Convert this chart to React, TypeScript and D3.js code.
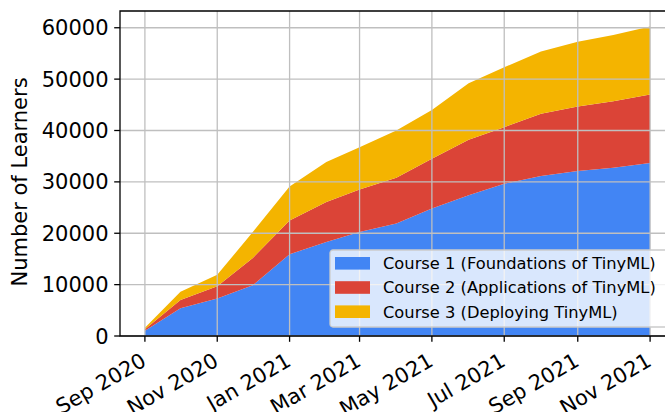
import React, { useEffect, useRef } from 'react';
import * as d3 from 'd3';

// monthly snapshots, first of each month
const months: string[] = [
  '2020-09-01', '2020-10-01', '2020-11-01', '2020-12-01', '2021-01-01',
  '2021-02-01', '2021-03-01', '2021-04-01', '2021-05-01', '2021-06-01',
  '2021-07-01', '2021-08-01', '2021-09-01', '2021-10-01', '2021-11-01',
];

const course1: number[] = [1000, 5380, 7320, 9900, 15900, 18300, 20250, 21900, 24800, 27400, 29650, 31130, 32100, 32750, 33650];
const course2: number[] = [300, 1620, 2380, 5300, 6600, 7800, 8250, 8900, 9700, 10800, 11000, 12110, 12560, 12950, 13350];
const course3: number[] = [300, 1600, 2200, 5050, 6600, 7750, 8260, 9200, 9500, 11000, 11650, 12160, 12620, 12880, 13250];

const seriesNames: string[] = [
  'Course 1 (Foundations of TinyML)',
  'Course 2 (Applications of TinyML)',
  'Course 3 (Deploying TinyML)',
];
const colors: string[] = ['#4285F4', '#DB4437', '#F4B400'];

const yTicks: number[] = [0, 10000, 20000, 30000, 40000, 50000, 60000];
const xTicks: string[] = ['2020-09-01', '2020-11-01', '2021-01-01', '2021-03-01', '2021-05-01', '2021-07-01', '2021-09-01', '2021-11-01'];

const App: React.FC = () => {
  const ref = useRef<SVGSVGElement>(null);

  useEffect(() => {
    const svg = d3.select(ref.current!);
    svg.selectAll('*').remove();

    const left = 120;
    const right = 675;
    const top = 11;
    const bottom = 336;
    const font = 'DejaVu Sans, sans-serif';

    const parse = d3.utcParse('%Y-%m-%d');
    const dates = months.map((m) => parse(m)!);

    const x = d3
      .scaleUtc()
      .domain([parse('2020-08-11')!, parse('2021-11-22')!])
      .range([left, right]);
    const y = d3.scaleLinear().domain([0, 63260]).range([bottom, top]);

    const rows = dates.map((d, i) => ({ date: d, c0: course1[i], c1: course2[i], c2: course3[i] }));
    const stacked = d3.stack<any>().keys(['c0', 'c1', 'c2'])(rows);

    const area = d3
      .area<any>()
      .x((d) => x(d.data.date))
      .y0((d) => y(d[0]))
      .y1((d) => y(d[1]));

    const clip = svg.append('defs').append('clipPath').attr('id', 'plot');
    clip.append('rect').attr('x', left).attr('y', top).attr('width', right - left).attr('height', bottom - top);

    const plot = svg.append('g').attr('clip-path', 'url(#plot)');
    plot
      .selectAll('path.area')
      .data(stacked)
      .enter()
      .append('path')
      .attr('class', 'area')
      .attr('d', area)
      .attr('fill', (_, i) => colors[i]);

    // grid on top of the areas
    const grid = svg.append('g').attr('stroke', '#bfbfbf').attr('stroke-width', 1.3);
    xTicks.forEach((t) => {
      const xx = x(parse(t)!);
      grid.append('line').attr('x1', xx).attr('x2', xx).attr('y1', top).attr('y2', bottom);
    });
    yTicks.forEach((t) => {
      grid.append('line').attr('x1', left).attr('x2', right).attr('y1', y(t)).attr('y2', y(t));
    });

    // spines
    svg
      .append('path')
      .attr('d', `M${right},${top}H${left}V${bottom}H${right}`)
      .attr('stroke', '#000')
      .attr('stroke-width', 1.3)
      .attr('fill', 'none');

    // y axis
    yTicks.forEach((t) => {
      svg.append('line').attr('x1', left - 5.8).attr('x2', left).attr('y1', y(t)).attr('y2', y(t)).attr('stroke', '#000').attr('stroke-width', 1.3);
      svg
        .append('text')
        .attr('x', left - 11.5)
        .attr('y', y(t))
        .attr('dy', '0.36em')
        .attr('text-anchor', 'end')
        .style('font-family', font)
        .style('font-size', '21px')
        .text(String(t));
    });

    // x axis, labels rotated like autofmt_xdate
    const fmt = d3.utcFormat('%b %Y');
    xTicks.forEach((t) => {
      const xx = x(parse(t)!);
      svg.append('line').attr('x1', xx).attr('x2', xx).attr('y1', bottom).attr('y2', bottom + 5.8).attr('stroke', '#000').attr('stroke-width', 1.3);
      svg
        .append('text')
        .attr('transform', `translate(${xx - 5.5},${bottom + 14.7})rotate(-30)`)
        .attr('dy', '0.78em')
        .attr('text-anchor', 'end')
        .style('font-family', font)
        .style('font-size', '21px')
        .text(fmt(parse(t)!));
    });

    svg
      .append('text')
      .attr('transform', `translate(27,182)rotate(-90)`)
      .attr('text-anchor', 'middle')
      .style('font-family', font)
      .style('font-size', '21px')
      .text('Number of Learners');

    // legend
    const lg = svg.append('g').attr('transform', 'translate(330,250)');
    lg.append('rect')
      .attr('width', 345)
      .attr('height', 77)
      .attr('rx', 3)
      .attr('fill', '#fff')
      .attr('fill-opacity', 0.8)
      .attr('stroke', '#cccccc')
      .attr('stroke-width', 1.3);
    seriesNames.forEach((name, i) => {
      const cy = 13.3 + i * 24.2;
      lg.append('rect').attr('x', 5).attr('y', cy - 6.3).attr('width', 35).attr('height', 12.6).attr('fill', colors[i]);
      lg.append('text')
        .attr('x', 53)
        .attr('y', cy)
        .attr('dy', '0.36em')
        .style('font-family', font)
        .style('font-size', '16.3px')
        .text(name);
    });
  }, []);

  return (
    <svg
      ref={ref}
      width={665}
      height={412}
      style={{ position: 'absolute', left: 0, top: 0, background: '#fff' }}
    />
  );
};

export default App;
